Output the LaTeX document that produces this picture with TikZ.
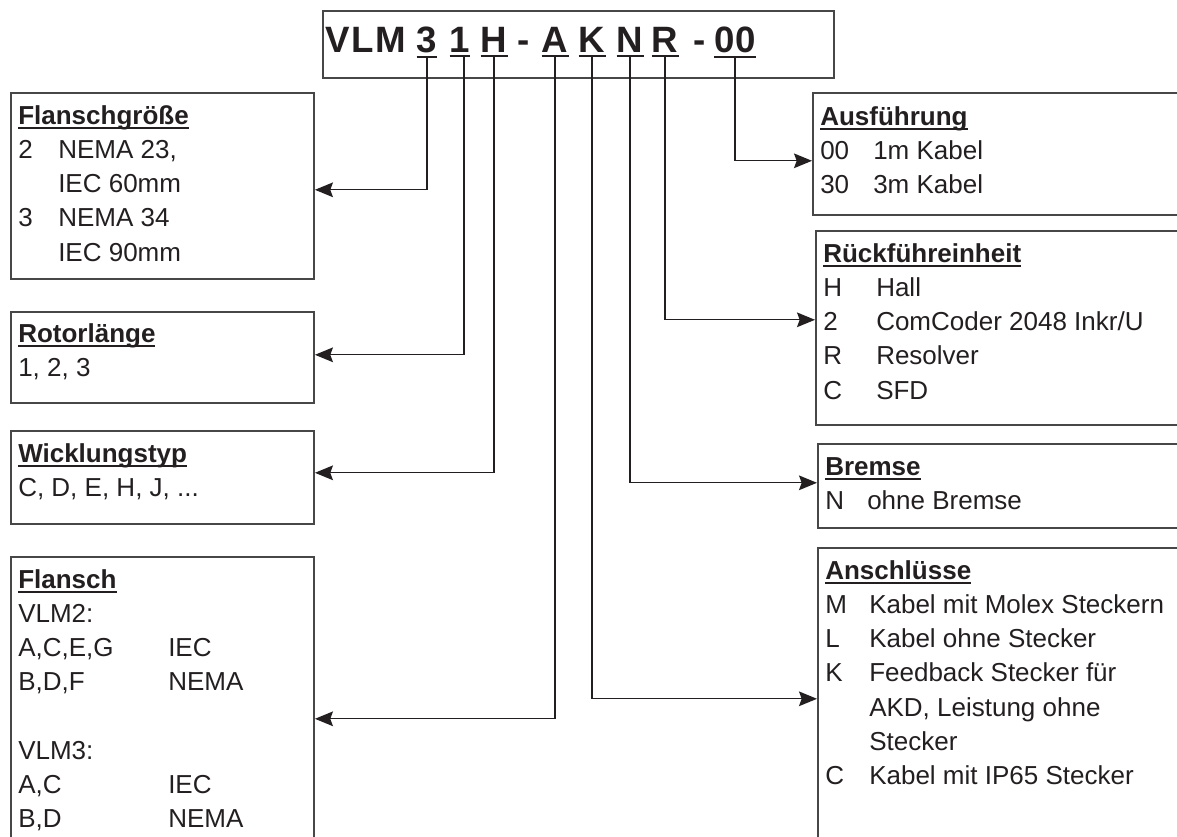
\documentclass[tikz,border=0pt]{standalone}
\usepackage{fontspec}
\setmainfont{Liberation Sans}
\usetikzlibrary{arrows.meta}
\definecolor{ink}{HTML}{231F20}
\definecolor{frame}{HTML}{474747}
\newcommand\hd[1]{\sbox0{\bfseries #1}\rlap{\rule[-3.6pt]{\wd0}{1.3pt}}\usebox0}
\tikzset{
  box/.style={draw=frame, line width=1.2pt, anchor=north west, inner sep=0},
  txt/.style={font=\fontsize{19.5pt}{25.7pt}\selectfont, text=ink, inner sep=0, anchor=base west},
  code/.style={font=\fontsize{27.5pt}{30pt}\selectfont\bfseries, text=ink, inner xsep=0, inner ysep=3pt, anchor=base},
  uline/.style={ink, line width=1.4pt},
  conn/.style={ink, line width=1pt, -{Stealth[length=13.5pt,width=11pt,inset=2pt]}},
}
\begin{document}
\begin{tikzpicture}[x=0.75pt,y=-0.75pt]
\useasboundingbox (0,0) rectangle (1177,836);
\clip (0,0) rectangle (1177,836);
% type code
\node[box, minimum width=383.25pt, minimum height=50.25pt] (title) at (322,10){};
\node[code, anchor=base west, font=\fontsize{27.5pt}{30pt}\selectfont\bfseries\addfontfeature{LetterSpace=5}] (vlm) at (325,52){VLM};
\node[code] (c3) at (427,52){3};
\node[code] (c1) at (460,52){1};
\node[code] (cH) at (494,52){H};
\node[code] (dsh1) at (524,52){-};
\node[code] (cA) at (555,52){A};
\node[code] (cK) at (592,52){K};
\node[code] (cN) at (630,52){N};
\node[code] (cR) at (665,52){R};
\node[code] (dsh2) at (700,52){-};
\node[code] (c00) at (735,52){00};
\foreach \n in {c3,c1,cH,cA,cK,cN,cR,c00}
  \draw[uline] (\n.south west) -- (\n.south east);

% left side
\node[box, minimum width=227.5pt, minimum height=139.5pt] (flgr) at (10,92){};
\node[txt] (flgrtxt) at (18,124){\begin{tabular}[t]{@{}p{30pt}@{}l@{}}
  \multicolumn{2}{@{}l@{}}{\hd{Flanschgröße}}\\
  2 & NEMA 23,\\
    & IEC 60mm\\
  3 & NEMA 34\\
    & IEC 90mm
\end{tabular}};
\node[box, minimum width=227.5pt, minimum height=68.25pt] (rotor) at (10,311){};
\node[txt] (rotortxt) at (18,342){\begin{tabular}[t]{@{}l@{}}
  \hd{Rotorlänge}\\
  1, 2, 3
\end{tabular}};
\node[box, minimum width=227.5pt, minimum height=69.75pt] (wickl) at (10,430){};
\node[txt] (wickltxt) at (18,462){\begin{tabular}[t]{@{}l@{}}
  \hd{Wicklungstyp}\\
  C, D, E, H, J, ...
\end{tabular}};
\node[box, minimum width=227.5pt, minimum height=243pt] (flan) at (10,556){};
\node[txt] (flantxt) at (18,588){\begin{tabular}[t]{@{}p{112.5pt}@{}l@{}}
  \multicolumn{2}{@{}l@{}}{\hd{Flansch}}\\
  VLM2: & \\
  A,C,E,G & IEC\\
  B,D,F & NEMA\\
  & \\
  VLM3: & \\
  A,C & IEC\\
  B,D & NEMA
\end{tabular}};

% right side
\node[box, minimum width=300pt, minimum height=91.5pt] (ausf) at (812,92){};
\node[txt] (ausftxt) at (820,125){\begin{tabular}[t]{@{}p{39.75pt}@{}l@{}}
  \multicolumn{2}{@{}l@{}}{\hd{Ausführung}}\\
  00 & 1m Kabel\\
  30 & 3m Kabel
\end{tabular}};
\node[box, minimum width=300pt, minimum height=145.5pt] (rueck) at (815,230){};
\node[txt] (riecktxt) at (823,262){\begin{tabular}[t]{@{}p{39.75pt}@{}l@{}}
  \multicolumn{2}{@{}l@{}}{\hd{Rückführeinheit}}\\
  H & Hall\\
  2 & ComCoder 2048 Inkr/U\\
  R & Resolver\\
  C & SFD
\end{tabular}};
\node[box, minimum width=300pt, minimum height=63pt] (brems) at (817,443){};
\node[txt] (bremstxt) at (825,475){\begin{tabular}[t]{@{}p{31.5pt}@{}l@{}}
  \multicolumn{2}{@{}l@{}}{\hd{Bremse}}\\
  N & ohne Bremse
\end{tabular}};
\node[box, minimum width=300pt, minimum height=226.5pt] (ansch) at (817,547){};
\node[txt] (anschtxt) at (825,579){\begin{tabular}[t]{@{}p{33pt}@{}l@{}}
  \multicolumn{2}{@{}l@{}}{\hd{Anschlüsse}}\\
  M & Kabel mit Molex Steckern\\
  L & Kabel ohne Stecker\\
  K & Feedback Stecker für\\
    & AKD, Leistung ohne\\
    & Stecker\\
  C & Kabel mit IP65 Stecker
\end{tabular}};

% connectors
\draw[conn] (c3.south) |- ([shift={(0,4)}]flgr.east);
\draw[conn] ([xshift=3pt]c1.south) |- ([shift={(0,-2.5)}]rotor.east);
\draw[conn] (cH.south) |- ([shift={(0,-4.5)}]wickl.east);
\draw[conn] (cA.south) |- (flan.east);
\draw[conn] (cK.south) |- (ansch.west);
\draw[conn] (cN.south) |- ([shift={(0,-3)}]brems.west);
\draw[conn] (cR.south) |- ([shift={(0,-8)}]rueck.west);
\draw[conn] (c00.south) |- ([shift={(0,7)}]ausf.west);

\end{tikzpicture}
\end{document}
